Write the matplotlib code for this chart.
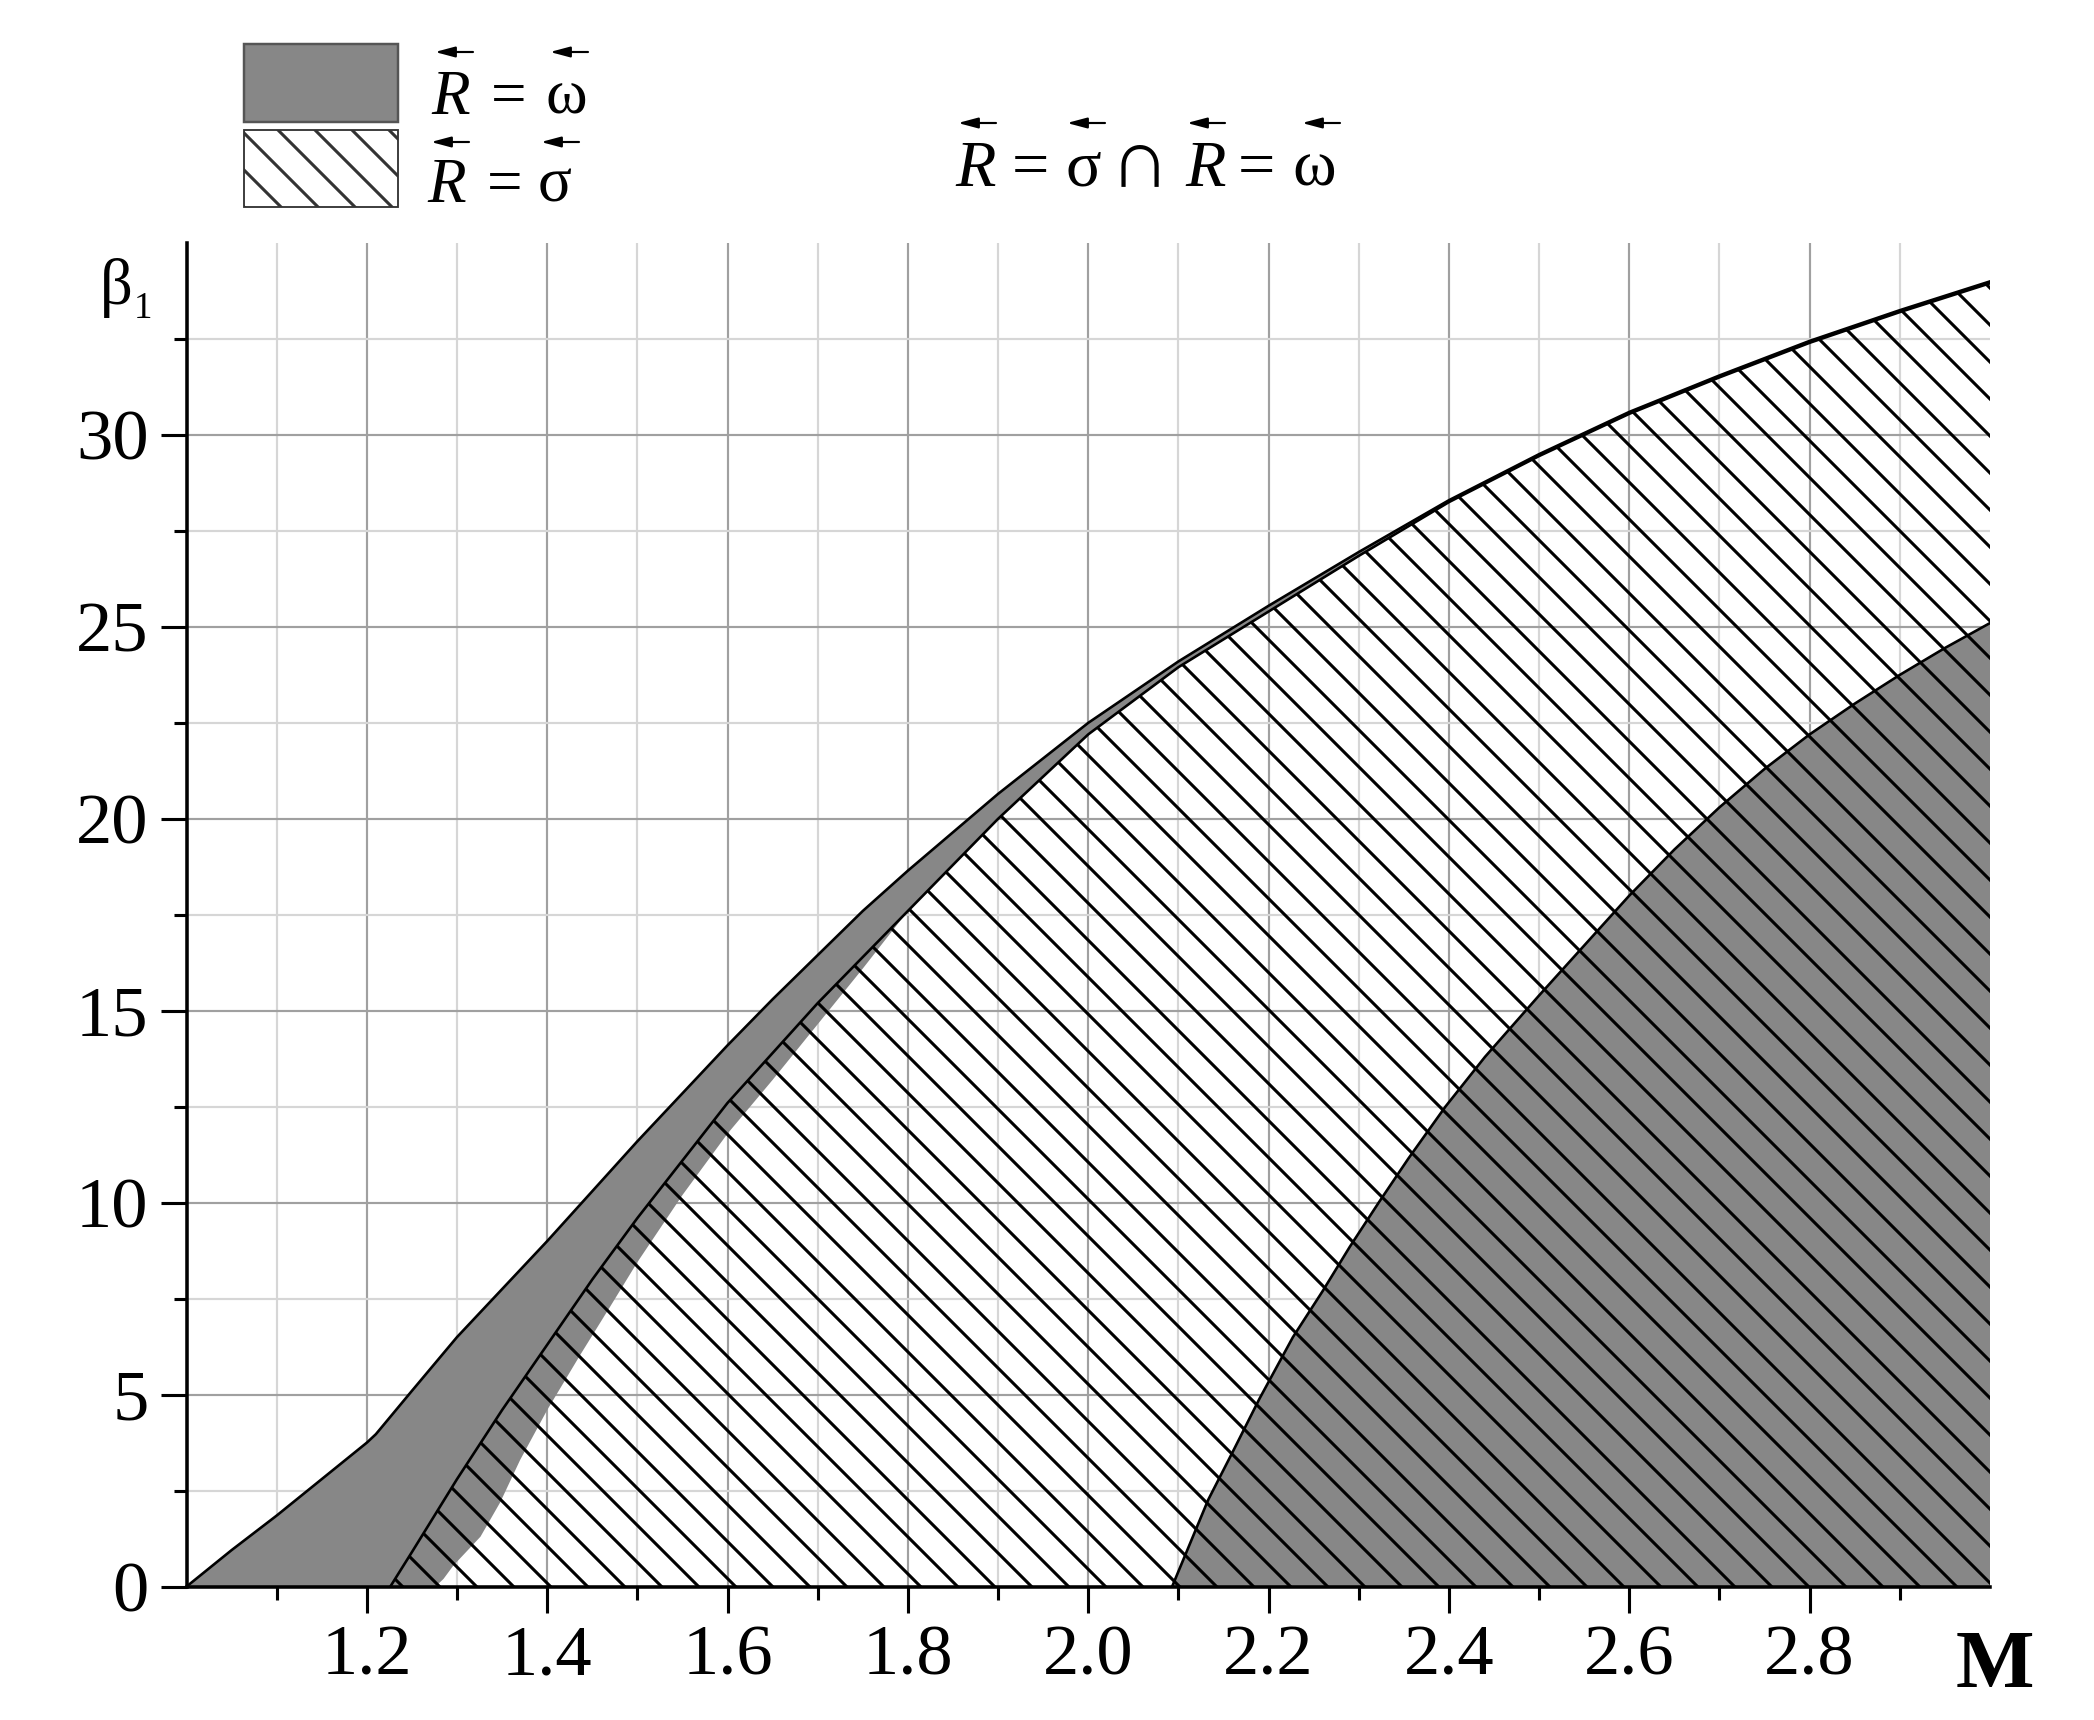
import numpy as np
import matplotlib.pyplot as plt
from matplotlib.patches import Rectangle, FancyArrowPatch

# outer boundary of the R=omega band (black line)
upper_m = [1.0, 1.05, 1.1, 1.15, 1.2, 1.21, 1.25, 1.3, 1.35, 1.4, 1.45, 1.5, 1.55, 1.6,
           1.65, 1.7, 1.75, 1.8, 1.9, 2.0, 2.1, 2.2, 2.3, 2.4, 2.5, 2.6, 2.7, 2.8, 2.9, 3.0]
upper_b = [0.0, 0.95, 1.85, 2.8, 3.75, 3.97, 5.1, 6.5, 7.75, 9.0, 10.3, 11.6, 12.85, 14.1,
           15.3, 16.45, 17.6, 18.65, 20.65, 22.5, 24.1, 25.55, 26.95, 28.3, 29.5, 30.6, 31.55,
           32.45, 33.25, 34.0]

# boundary of the R=sigma region (black line)
sigma_m = [1.226, 1.25, 1.3, 1.35, 1.4, 1.45, 1.5, 1.55, 1.6, 1.65, 1.7, 1.75, 1.8,
           1.9, 2.0, 2.1, 2.2, 2.3, 2.4, 2.5, 2.6, 2.7, 2.8, 2.9, 3.0]
sigma_b = [0.0, 0.9, 2.8, 4.6, 6.3, 8.0, 9.6, 11.1, 12.6, 13.9, 15.2, 16.4, 17.6,
           20.0, 22.2, 23.95, 25.4, 26.85, 28.25, 29.45, 30.55, 31.5, 32.4, 33.2, 33.95]

# inner edge of the R=omega band (no outline)
inner_m = [1.276, 1.285, 1.296, 1.31, 1.326, 1.348, 1.37, 1.4, 1.437, 1.47, 1.5, 1.55,
           1.6, 1.65, 1.7, 1.75, 1.8]
inner_b = [0.0, 0.2, 0.55, 0.9, 1.3, 2.2, 3.3, 4.6, 6.05, 7.3, 8.45, 10.2,
           11.8, 13.2, 14.65, 16.1, 17.6]

# lower right R=omega region
low_m = [2.093, 2.133, 2.16, 2.19, 2.227, 2.26, 2.29, 2.322, 2.355, 2.396, 2.44, 2.47, 2.5,
         2.55, 2.6, 2.65, 2.7, 2.75, 2.8, 2.85, 2.9, 2.95, 3.0]
low_b = [0.0, 2.26, 3.5, 4.9, 6.5, 7.7, 8.85, 10.0, 11.15, 12.5, 13.8, 14.6, 15.4,
         16.7, 18.0, 19.2, 20.3, 21.3, 22.2, 23.0, 23.75, 24.45, 25.1]

m_major = [1.2, 1.4, 1.6, 1.8, 2.0, 2.2, 2.4, 2.6, 2.8]
m_minor = [1.1, 1.3, 1.5, 1.7, 1.9, 2.1, 2.3, 2.5, 2.7, 2.9]
b_major = [0, 5, 10, 15, 20, 25, 30]
b_minor = [2.5, 7.5, 12.5, 17.5, 22.5, 27.5, 32.5]

W, H, DPI = 2094, 1720, 222
GRAY = '#878787'
SERIF = ['Liberation Serif', 'DejaVu Serif']
HATCH = '\\\\'

plt.rcParams['font.family'] = SERIF
plt.rcParams['hatch.linewidth'] = 1.0

fig = plt.figure(figsize=(W / DPI, H / DPI), dpi=DPI)
ax = fig.add_axes([186.5 / W, 1 - 1586.6 / H, (1990 - 186.5) / W, (1586.6 - 243) / H])
ax.set_xlim(1.0, 3.0)
ax.set_ylim(0, 35)

# gray band between the outer line and the sigma line / inner edge
sm = np.array(sigma_m)
sb = np.array(sigma_b)
keep = sm >= inner_m[-1]
band_x = list(upper_m) + list(sm[keep][::-1]) + list(inner_m[::-1])
band_y = list(upper_b) + list(sb[keep][::-1]) + list(inner_b[::-1])
ax.fill(band_x, band_y, facecolor=GRAY, edgecolor='none', zorder=1)

ax.fill(list(low_m) + [3.0], list(low_b) + [0.0], facecolor=GRAY, edgecolor='none', zorder=1)

# hatched R=sigma region
ax.fill(list(sigma_m) + [3.0], list(sigma_b) + [0.0], facecolor='none', edgecolor='black',
        hatch=HATCH, linewidth=0, zorder=2)

for xs, ys in [(upper_m, upper_b), (sigma_m, sigma_b), (low_m, low_b)]:
    ax.plot(xs, ys, color='black', lw=0.85, zorder=3, solid_joinstyle='round')

ax.set_xticks(m_major, labels=[f'{v:.1f}' for v in m_major])
ax.set_xticks(m_minor, minor=True)
ax.set_yticks(b_major, labels=[str(v) for v in b_major])
ax.set_yticks(b_minor, minor=True)
ax.tick_params(which='major', direction='out', length=8.4, width=1.0, labelsize=23.5, pad=3.9)
ax.tick_params(which='minor', direction='out', length=4.2, width=1.0)

ax.set_axisbelow(True)
ax.grid(which='major', color='#a0a0a0', lw=0.7)
ax.grid(which='minor', color='#d6d6d6', lw=0.7)
for side in ['top', 'right']:
    ax.spines[side].set_visible(False)
for side in ['left', 'bottom']:
    ax.spines[side].set_linewidth(1.15)


def put(x, y, s, **kw):
    fig.text(x / W, 1 - y / H, s, **kw)


def arrow(xc, y, half=19):
    fig.add_artist(FancyArrowPatch(((xc + half) / W, 1 - y / H), ((xc - half) / W, 1 - y / H),
                                   transform=fig.transFigure, color='black', lw=0.7,
                                   arrowstyle='-|>,head_length=0.45,head_width=0.12',
                                   mutation_scale=12, shrinkA=0, shrinkB=0))


# axis labels
put(1995, 1687, 'M', ha='center', va='baseline', fontsize=27, fontweight='bold')
put(100, 304, '\u03b2', ha='left', va='baseline', fontsize=21)
put(134, 318, '1', ha='left', va='baseline', fontsize=12)

# legend boxes
fig.add_artist(Rectangle((244 / W, 1 - 122 / H), 154 / W, 78 / H, transform=fig.transFigure,
                         facecolor=GRAY, edgecolor='#555555', lw=0.8))
fig.add_artist(Rectangle((244 / W, 1 - 207 / H), 154 / W, 77 / H, transform=fig.transFigure,
                         facecolor='white', edgecolor='#333333', lw=0.6, hatch=HATCH))

# legend texts: R = omega, R = sigma
LEG = 20.5
for base, x0, last, last_x, arrow_y, ac in [(114, 431, '\u03c9', 545, 52, 569),
                                              (202, 427, '\u03c3', 538, 142, 560)]:
    put(x0, base, 'R', style='italic', fontsize=LEG, va='baseline')
    put(x0 + 60, base, '=', fontsize=LEG, va='baseline')
    put(last_x, base, last, fontsize=LEG, va='baseline')
    arrow(x0 + 23, arrow_y)
    arrow(ac, arrow_y)

# title: R = sigma  cap  R = omega
tb = 186
TS = 21.5
pieces = [(955, 'R', 'italic', TS), (1012, '=', 'normal', TS), (1066, '\u03c3', 'normal', TS),
          (1110, '\u2229', 'normal', 27), (1185, 'R', 'italic', TS), (1238, '=', 'normal', TS),
          (1292, '\u03c9', 'normal', TS)]
for x, s, st, fs in pieces:
    put(x, tb, s, style=st, fontsize=fs, va='baseline')
for x in [977, 1086, 1206, 1321]:
    arrow(x, 123)

fig.savefig('out.png', dpi=DPI)
